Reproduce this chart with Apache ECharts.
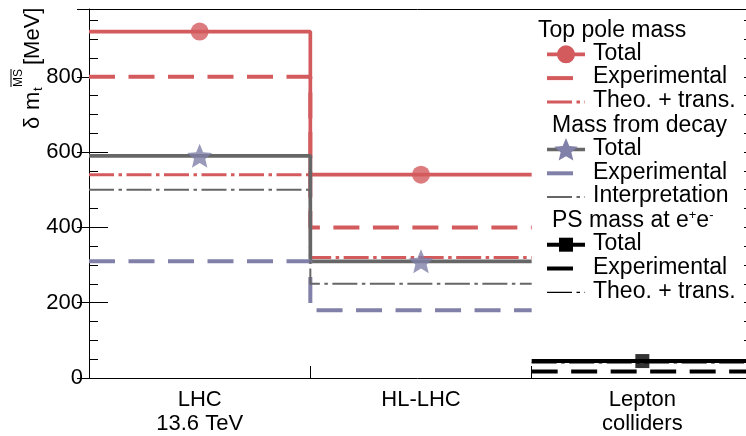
<!DOCTYPE html>
<html>
<head>
<meta charset="utf-8">
<script src="https://cdn.jsdelivr.net/npm/echarts@6/dist/echarts.min.js"></script>
<style>html,body{margin:0;padding:0;background:#fff;}#c{width:746px;height:436px;}</style>
</head>
<body>
<div id="c"></div>
<script>
// ---- data ----
const categories = ['LHC\n13.6 TeV', 'HL-LHC', 'Lepton\ncolliders'];
const poleTotal = [920, 540, null];
const poleExp = [800, 400, null];
const poleTheo = [540, 320, null];
const decayTotal = [590, 310, null];
const decayExp = [310, 180, null];
const decayInterp = [500, 250, null];
const psTotal = [null, null, 45];
const psExp = [null, null, 17];
const psTheo = [null, null, 40];
const yMax = 980;
const yMajor = 200;
const yMinor = 50;

// the reference frame is cut by the right border of the picture: only 657 of 664 px of the frame are visible
const xMax = categories.length * 657 / 664;

// ---- styles ----
const RED = '#d35b5e', GRAY = '#666666', LAV = '#8080a9', BLK = '#000000';
const FONT = 'Liberation Sans, Arial, sans-serif';
const LFONT = '23px ' + FONT;
const DASH = [26, 13.5];
const DASHDOT = [25, 4.5, 3.5, 4.5];
const styles = {
  poleTotal: {color: RED, width: 3.7, type: 'solid'},
  poleExp: {color: RED, width: 4, type: DASH},
  poleTheo: {color: RED, width: 3, type: DASHDOT},
  decayTotal: {color: GRAY, width: 3.7, type: 'solid'},
  decayExp: {color: LAV, width: 4, type: DASH},
  decayInterp: {color: GRAY, width: 2, type: DASHDOT},
  psTotal: {color: BLK, width: 4, type: 'solid'},
  psExp: {color: BLK, width: 4, type: DASH},
  psTheo: {color: BLK, width: 1.3, type: DASHDOT}
};

function starPoints(cx, cy, R, ratio) {
  const pts = [];
  for (let k = 0; k < 10; k++) {
    const a = -Math.PI / 2 + k * Math.PI / 5;
    const r = k % 2 === 0 ? R : R * ratio;
    pts.push([cx + r * Math.cos(a), cy + r * Math.sin(a)]);
  }
  return pts;
}
const STAR_RATIO = 0.45;
const starPath = 'path://' + starPoints(0, 0, 10, STAR_RATIO).map((p, i) => (i ? 'L' : 'M') + p[0].toFixed(3) + ' ' + p[1].toFixed(3)).join(' ') + ' Z';

function steps(vals) {
  const pts = [];
  vals.forEach((v, i) => { if (v !== null) { pts.push([i, v]); pts.push([i + 1, v]); } });
  return pts;
}
function centers(vals) {
  const pts = [];
  vals.forEach((v, i) => { if (v !== null) pts.push([i + 0.5, v]); });
  return pts;
}
function lineSeries(name, vals) {
  const s = styles[name];
  return {type: 'line', name: name, xAxisIndex: 0, yAxisIndex: 0, data: steps(vals),
    symbol: 'none', lineStyle: {color: s.color, width: s.width, type: s.type, cap: 'butt'},
    silent: true, animation: false, z: 3, clip: false};
}

const series = [
  lineSeries('poleTotal', poleTotal),
  lineSeries('poleExp', poleExp),
  lineSeries('poleTheo', poleTheo),
  lineSeries('decayTotal', decayTotal),
  lineSeries('decayExp', decayExp),
  lineSeries('decayInterp', decayInterp),
  lineSeries('psTotal', psTotal),
  lineSeries('psExp', psExp),
  lineSeries('psTheo', psTheo),
  {type: 'scatter', xAxisIndex: 0, yAxisIndex: 0, data: centers(poleTotal), symbol: 'circle', symbolSize: 18,
    itemStyle: {color: RED}, animation: false, z: 5},
  {type: 'scatter', xAxisIndex: 0, yAxisIndex: 0, data: centers(decayTotal), symbol: starPath, symbolSize: [25, 24],
    itemStyle: {color: LAV}, animation: false, z: 5},
  {type: 'scatter', xAxisIndex: 0, yAxisIndex: 0, data: centers(psTotal), symbol: 'rect', symbolSize: 14,
    itemStyle: {color: BLK}, animation: false, z: 5}
];

function yAx(pos, interval, len, labels) {
  return {type: 'value', position: pos, min: 0, max: yMax, interval: interval,
    axisLine: {show: labels, lineStyle: {color: BLK, width: 1}},
    axisTick: {show: true, inside: true, length: len, lineStyle: {color: BLK, width: 1}},
    axisLabel: {show: labels, color: BLK, fontSize: 22, fontFamily: FONT, margin: 6, showMaxLabel: false},
    splitLine: {show: false}};
}

// ---- legend (graphic) ----
const LX0 = 547, LX1 = 585, TX = 593;
function rowY(i) { return 29.5 + 23.8 * i; }
const legend = [
  {header: 'Top pole mass', x: 538},
  {key: 'poleTotal', text: 'Total', marker: 'circle'},
  {key: 'poleExp', text: 'Experimental'},
  {key: 'poleTheo', text: 'Theo. + trans.'},
  {header: 'Mass from decay', x: 552},
  {key: 'decayTotal', text: 'Total', marker: 'star'},
  {key: 'decayExp', text: 'Experimental'},
  {key: 'decayInterp', text: 'Interpretation'},
  {header: 'PS', x: 552, rich: true},
  {key: 'psTotal', text: 'Total', marker: 'square'},
  {key: 'psExp', text: 'Experimental'},
  {key: 'psTheo', text: 'Theo. + trans.'}
];
const graphics = [];
legend.forEach((e, i) => {
  const y = rowY(i);
  if (e.header) {
    if (e.rich) {
      graphics.push({type: 'text', x: e.x, y: y + 1, z: 10, style: {
        text: '{n|PS mass at e}{s|+}{n|e}{s|-}', fill: BLK, align: 'left', verticalAlign: 'middle',
        rich: {n: {fontSize: 23, fontFamily: FONT, lineHeight: 24, fill: BLK},
               s: {fontSize: 13, fontFamily: FONT, lineHeight: 13, verticalAlign: 'top', fill: BLK}}}});
    } else {
      graphics.push({type: 'text', x: e.x, y: y + 1, z: 10, style: {text: e.header, font: LFONT,
        fill: BLK, align: 'left', verticalAlign: 'middle'}});
    }
    return;
  }
  const s = styles[e.key];
  const ly = y + 1;
  graphics.push({type: 'line', z: 10, shape: {x1: LX0, y1: ly, x2: LX1, y2: ly},
    style: {stroke: s.color, lineWidth: s.width, lineDash: Array.isArray(s.type) ? s.type : null, lineCap: 'butt'}});
  if (e.marker === 'circle') {
    graphics.push({type: 'circle', z: 11, shape: {cx: (LX0 + LX1) / 2, cy: ly, r: 9}, style: {fill: s.color}});
  } else if (e.marker === 'star') {
    graphics.push({type: 'polygon', z: 11, shape: {points: starPoints((LX0 + LX1) / 2, ly + 1, 12.5, STAR_RATIO)}, style: {fill: LAV}});
  } else if (e.marker === 'square') {
    graphics.push({type: 'rect', z: 11, shape: {x: (LX0 + LX1) / 2 - 7, y: ly - 7, width: 14, height: 14}, style: {fill: BLK}});
  }
  graphics.push({type: 'text', x: TX, y: y, z: 10, style: {text: e.text, font: LFONT,
    fill: BLK, align: 'left', verticalAlign: 'middle'}});
});

// y-axis title (rotated)
graphics.push({type: 'group', x: 40, y: 132, rotation: Math.PI / 2, z: 10, children: [
  {type: 'text', x: 3, y: -7, style: {text: 'δ', font: '22px ' + FONT, fill: BLK, align: 'left', verticalAlign: 'middle'}},
  {type: 'text', x: 22, y: -7, style: {text: 'm', font: '22px ' + FONT, fill: BLK, align: 'left', verticalAlign: 'middle'}},
  {type: 'text', x: 41, y: -2, style: {text: 't', font: '13px ' + FONT, fill: BLK, align: 'left', verticalAlign: 'middle'}},
  {type: 'text', x: 45, y: -21, style: {text: 'MS', font: '12px ' + FONT, fill: BLK, align: 'left', verticalAlign: 'middle'}},
  {type: 'line', shape: {x1: 45, y1: -29, x2: 63, y2: -29}, style: {stroke: BLK, lineWidth: 1}},
  {type: 'text', x: 67, y: -7, style: {text: '[MeV]', font: '22px ' + FONT, fill: BLK, align: 'left', verticalAlign: 'middle'}}
]});

const binEdges = categories.map((c, i) => i).slice(1);
const binCenters = categories.map((c, i) => i + 0.5);

const chart = echarts.init(document.getElementById('c'), null, {renderer: 'canvas'});
chart.setOption({
  animation: false,
  backgroundColor: '#fff',
  grid: {left: 89, top: 9, right: 0, bottom: 56.5, show: false},
  xAxis: [
    {type: 'value', min: 0, max: xMax, show: false},
    {type: 'value', min: 0, max: xMax, position: 'bottom',
      axisLine: {show: true, onZero: false, lineStyle: {color: BLK, width: 1}},
      axisTick: {show: true, inside: true, length: 12, customValues: binEdges, lineStyle: {color: BLK}},
      axisLabel: {color: BLK, fontSize: 22, fontFamily: FONT, lineHeight: 24, margin: 10,
        customValues: binCenters, formatter: v => categories[Math.floor(v)]},
      splitLine: {show: false}},
    {type: 'value', min: 0, max: xMax, position: 'top',
      axisLine: {show: true, onZero: false, lineStyle: {color: BLK, width: 1}},
      axisTick: {show: false}, axisLabel: {show: false}, splitLine: {show: false}}
  ],
  yAxis: [
    yAx('left', yMajor, 19, true),
    yAx('left', yMinor, 9, false),
    yAx('right', yMajor, 12, false),
    yAx('right', yMinor, 2, false)
  ],
  series: series,
  graphic: graphics
});
</script>
</body>
</html>
